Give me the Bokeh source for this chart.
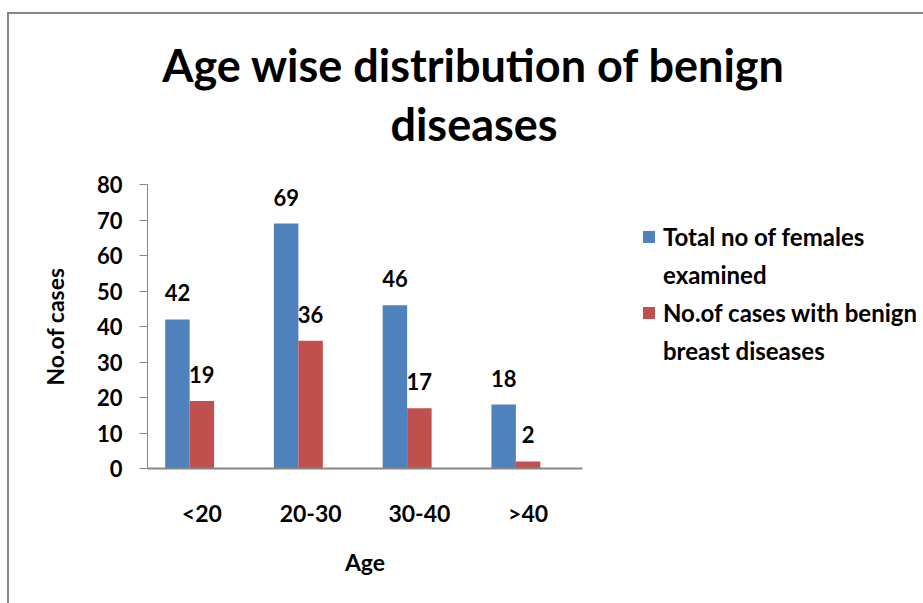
from bokeh.plotting import figure
from bokeh.models import (ColumnDataSource, FactorRange, Range1d, FixedTicker, LabelSet,
                          Title, Legend, LegendItem)
from bokeh.core.properties import value
from bokeh.transform import dodge
from bokeh.embed import file_html
from bokeh.resources import INLINE

# ---- data ----
age_groups = ["<20", "20-30", "30-40", ">40"]
total_examined = [42, 69, 46, 18]
benign_cases = [19, 36, 17, 2]
y_ticks = [0, 10, 20, 30, 40, 50, 60, 70, 80]
series_1_lines = ["Total no of females", "examined"]
series_2_lines = ["No.of cases with benign", "breast diseases"]
title_lines = ["Age wise distribution of benign", "diseases"]
x_title = "Age"
y_title = "No.of cases"

BLUE = "#4F81BD"
RED = "#C0504D"
GRAY = "#868686"
FONT = "Lato"

source = ColumnDataSource(dict(
    age=age_groups,
    total=total_examined,
    benign=benign_cases,
    total_txt=[str(v) for v in total_examined],
    benign_txt=[str(v) for v in benign_cases],
))

p = figure(x_range=FactorRange(factors=age_groups, range_padding=0),
           y_range=Range1d(0, 80),
           frame_width=435, frame_height=284, title=None,
           output_backend="svg", toolbar_location=None,
           min_border_left=138, min_border_right=0,
           min_border_top=170, min_border_bottom=135)
p.styles = {"border-left": "2px solid #868686", "border-top": "2px solid #868686",
            "margin-left": "7px", "margin-top": "12px"}

p.outline_line_color = None
p.xgrid.grid_line_color = None
p.ygrid.grid_line_color = None
p.background_fill_color = "white"
p.border_fill_color = "white"

r1 = p.vbar(x=dodge("age", -0.225, range=p.x_range), top="total", width=0.225,
            source=source, fill_color=BLUE, line_color=None)
r2 = p.vbar(x=dodge("age", 0.0, range=p.x_range), top="benign", width=0.225,
            source=source, fill_color=RED, line_color=None)

for col, off in (("total", -0.225), ("benign", 0.0)):
    p.add_layout(LabelSet(x=dodge("age", off, range=p.x_range), y=col, text=col + "_txt",
                          source=source, text_align="center", text_baseline="alphabetic",
                          y_offset=18, text_font=value(FONT), text_font_style="bold",
                          text_font_size="22px", text_color="black"))

# axes
p.yaxis.ticker = FixedTicker(ticks=y_ticks)
p.yaxis.axis_line_color = GRAY
p.yaxis.axis_line_width = 1
p.yaxis.major_tick_line_color = GRAY
p.yaxis.major_tick_in = 0
p.yaxis.major_tick_out = 8
p.yaxis.minor_tick_line_color = None
p.yaxis.major_label_standoff = 17
p.yaxis.major_label_text_font = FONT
p.yaxis.major_label_text_font_style = "bold"
p.yaxis.major_label_text_font_size = "22px"
p.yaxis.major_label_text_color = "black"
p.yaxis.axis_label = y_title
p.yaxis.axis_label_text_font = FONT
p.yaxis.axis_label_text_font_style = "bold"
p.yaxis.axis_label_text_font_size = "23px"
p.yaxis.axis_label_text_color = "black"
p.yaxis.axis_label_standoff = 25

p.xaxis.axis_line_color = GRAY
p.xaxis.axis_line_width = 2
p.xaxis.major_tick_line_color = None
p.xaxis.major_tick_out = 0
p.xaxis.major_tick_in = 0
p.xaxis.minor_tick_line_color = None
p.xaxis.major_label_standoff = 30
p.xaxis.major_label_text_font = FONT
p.xaxis.major_label_text_font_style = "bold"
p.xaxis.major_label_text_font_size = "23px"
p.xaxis.major_label_text_color = "black"
p.xaxis.axis_label = x_title
p.xaxis.axis_label_text_font = FONT
p.xaxis.axis_label_text_font_style = "bold"
p.xaxis.axis_label_text_font_size = "23px"
p.xaxis.axis_label_text_color = "black"
p.xaxis.axis_label_standoff = 18

# title: two stacked lines (first added sits nearest the frame);
# padding order is (left, right, top, bottom)
for txt, pad in ((title_lines[1], (218, 0, 0, 34)), (title_lines[0], (218, 0, 0, 3))):
    p.add_layout(Title(text=txt, align="center", standoff=0, padding=pad,
                       text_font=FONT, text_font_style="bold", text_font_size="45px",
                       text_color="black"), "above")

legend = Legend(items=[LegendItem(label=series_1_lines[0], renderers=[r1]),
                       LegendItem(label=series_1_lines[1], renderers=[]),
                       LegendItem(label=series_2_lines[0], renderers=[r2]),
                       LegendItem(label=series_2_lines[1], renderers=[])],
                location=(59, 103), orientation="vertical",
                label_text_font=FONT, label_text_font_style="bold",
                label_text_font_size="24px", label_text_color="black",
                glyph_width=15, glyph_height=15, label_standoff=7,
                spacing=9, padding=0, margin=0,
                border_line_color=None, background_fill_alpha=0)
p.add_layout(legend, "right")

open("out.html", "w").write(file_html(p, INLINE))
